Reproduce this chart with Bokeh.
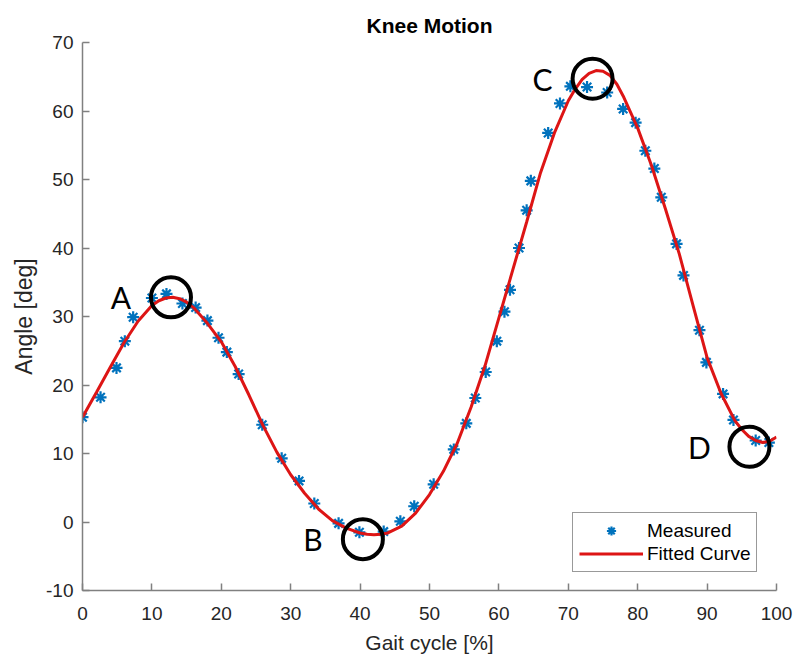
from bokeh.plotting import figure
from bokeh.models import Range1d, FixedTicker, Legend, LegendItem, ColumnDataSource
from bokeh.core.properties import value
from bokeh.embed import file_html
from bokeh.resources import INLINE

# ---- data ----
measured_x = [0.0, 2.6, 4.9, 6.1, 7.3, 10.0, 12.1, 14.4, 16.3, 18.0, 19.6, 20.8, 22.5,
              25.9, 28.7, 31.2, 33.4, 36.9, 39.9, 43.4, 45.8, 47.8, 50.6, 53.5, 55.3,
              56.6, 58.1, 59.7, 60.8, 61.6, 62.9, 64.0, 64.6, 67.1, 68.8, 70.3, 72.7,
              75.6, 77.9, 79.7, 81.1, 82.4, 83.4, 85.6, 86.6, 88.9, 89.9, 92.3, 93.8,
              97.0, 98.9]
measured_y = [15.3, 18.2, 22.5, 26.4, 29.9, 32.7, 33.3, 31.9, 31.3, 29.4, 26.9, 24.8, 21.6,
              14.2, 9.3, 6.0, 2.7, -0.2, -1.5, -1.4, 0.1, 2.3, 5.5, 10.6, 14.4,
              18.1, 21.9, 26.4, 30.7, 33.9, 40.0, 45.5, 49.8, 56.8, 61.1, 63.6, 63.5,
              62.7, 60.3, 58.3, 54.2, 51.6, 47.4, 40.6, 36.0, 28.0, 23.3, 18.7, 14.9,
              11.9, 11.6]

fit_x = [0, 2, 4, 6, 8, 10, 11, 12, 13, 14, 15, 16, 18,
         20, 22, 24, 26, 28, 30, 32, 34, 36, 38,
         40, 41, 42, 43, 44, 46, 48, 50, 52, 54, 56, 58,
         60, 62, 64, 66, 68, 70, 71, 72, 73, 74, 75, 76, 77, 78,
         80, 82, 84, 86, 88, 90, 92, 94, 95, 96, 97, 98, 99, 100]
fit_y = [15.3, 18.9, 22.6, 26.2, 29.3, 31.6, 32.3, 32.7, 32.8, 32.6, 32.1, 31.3, 29.0,
         26.3, 22.7, 18.5, 14.1, 10.2, 6.9, 4.2, 1.9, 0.2, -0.9,
         -1.6, -1.8, -1.85, -1.8, -1.6, -0.6, 1.3, 4.0, 7.4, 11.5, 16.8, 22.8,
         29.8, 36.8, 43.8, 51.0, 56.8, 61.5, 63.2, 64.6, 65.5, 65.9, 65.8, 65.2, 63.9, 62.0,
         57.5, 52.0, 45.7, 39.1, 31.5, 24.0, 18.8, 14.8, 13.5, 12.5, 11.9, 11.6, 11.8, 12.4]

event_labels = ["A", "B", "C", "D"]
event_x = [12.75, 40.4, 73.5, 96.1]
event_y = [32.8, -2.5, 64.7, 11.0]

x_ticks = [0, 10, 20, 30, 40, 50, 60, 70, 80, 90, 100]
y_ticks = [-10, 0, 10, 20, 30, 40, 50, 60, 70]

# ---- figure ----
p = figure(width=798, height=662, output_backend="svg", toolbar_location=None,
           x_range=Range1d(0, 100), y_range=Range1d(-10, 70),
           min_border_left=82, min_border_right=22, min_border_top=42,
           min_border_bottom=72)
p.title.text = "Knee Motion"
p.title.align = "center"
p.title.text_font = "Liberation Sans"
p.title.text_font_size = "21px"
p.title.text_font_style = "bold"
p.title.text_color = "black"
p.title.standoff = 11

p.outline_line_color = None
p.xgrid.visible = False
p.ygrid.visible = False

for ax in (p.xaxis[0], p.yaxis[0]):
    ax.axis_line_color = "#808080"
    ax.axis_line_width = 1.5
    ax.major_tick_line_color = "#808080"
    ax.major_tick_line_width = 1.5
    ax.major_tick_in = 7
    ax.major_tick_out = 0
    ax.minor_tick_line_color = None
    ax.major_label_text_font = "Liberation Sans"
    ax.major_label_text_font_size = "19px"
    ax.major_label_text_color = "#262626"
    ax.axis_label_text_font = "Liberation Sans"
    ax.axis_label_text_font_style = "normal"
    ax.axis_label_text_color = "#262626"

p.xaxis.ticker = FixedTicker(ticks=x_ticks)
p.yaxis.ticker = FixedTicker(ticks=y_ticks)
p.yaxis.major_label_overrides = {-10: "-10"}
p.xaxis.axis_label = "Gait cycle [%]"
p.yaxis.axis_label = "Angle [deg]"
p.xaxis.axis_label_text_font_size = "21px"
p.yaxis.axis_label_text_font_size = "23px"
p.xaxis.major_label_standoff = 16
p.xaxis.axis_label_standoff = 8
p.yaxis.major_label_standoff = 9
p.yaxis.axis_label_standoff = 6

src_m = ColumnDataSource(dict(x=measured_x, y=measured_y))
src_f = ColumnDataSource(dict(x=fit_x, y=fit_y))
src_e = ColumnDataSource(dict(x=event_x, y=event_y, t=event_labels))

r_meas = p.scatter("x", "y", source=src_m, marker="asterisk", size=12,
                   line_color="#0072BD", line_width=2.2)
r_fit = p.line("x", "y", source=src_f, line_color="#dd1515", line_width=3)

p.scatter("x", "y", source=src_e, marker="circle", size=40, fill_color=None,
          line_color="black", line_width=4)
p.text("x", "y", text="t", source=src_e, x_offset=-50, text_align="center",
       text_baseline="middle", text_font=value("Lato"), text_font_size="30px",
       text_color="black")

legend = Legend(items=[LegendItem(label="Measured", renderers=[r_meas]),
                       LegendItem(label="Fitted Curve", renderers=[r_fit])],
                location=(490, 18))
legend.label_text_font = "Liberation Sans"
legend.label_text_font_size = "19px"
legend.label_text_color = "black"
legend.glyph_width = 64
legend.glyph_height = 23
legend.label_height = 23
legend.label_standoff = 4
legend.padding = 6
legend.spacing = 0
legend.margin = 0
legend.border_line_color = "#333333"
legend.border_line_width = 1
legend.background_fill_color = "white"
legend.background_fill_alpha = 1.0
p.add_layout(legend, "center")

open("out.html", "w").write(file_html(p, INLINE))
